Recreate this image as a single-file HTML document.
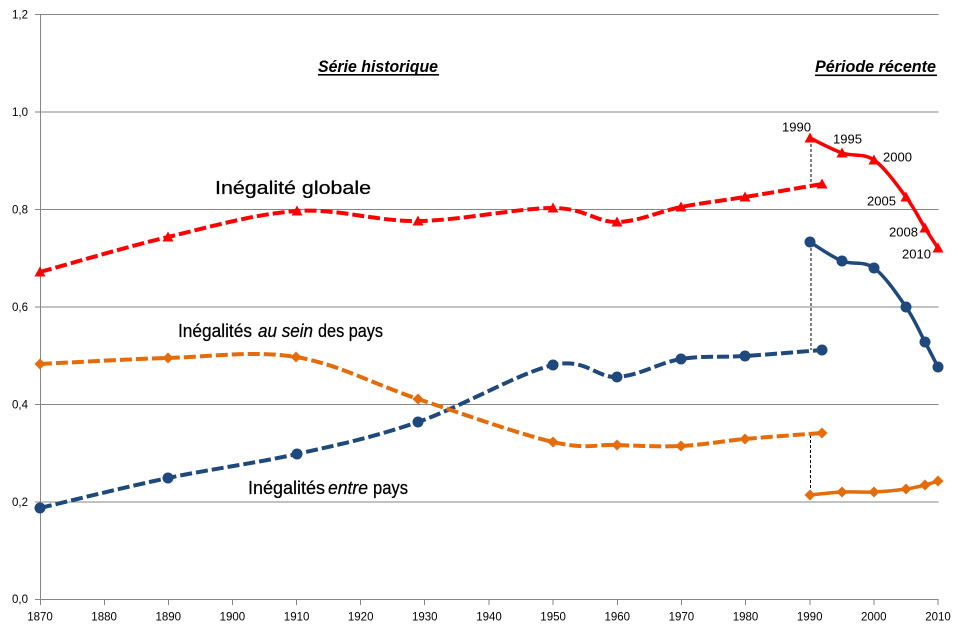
<!DOCTYPE html>
<html><head><meta charset="utf-8"><style>
html,body{margin:0;padding:0;background:#fff;}
svg{display:block;}
.ax{font-family:"Liberation Sans",sans-serif;font-size:11.5px;fill:#000;}
.an{font-family:"Liberation Sans",sans-serif;font-size:18px;fill:#000;stroke:#000;stroke-width:0.25px;}
.yr{font-family:"Liberation Sans",sans-serif;font-size:13px;fill:#000;}
.tt{font-family:"Liberation Sans",sans-serif;font-size:16.5px;font-weight:bold;font-style:italic;fill:#000;}
</style></head><body>
<svg width="958" height="629" viewBox="0 0 958 629" xmlns="http://www.w3.org/2000/svg">
<defs>
<path id="tri" d="M0,-5.5 L5.5,4.5 L-5.5,4.5 Z" fill="#ff0000"/>
<circle id="dot" cx="0" cy="0" r="5.5" fill="#1f497d"/>
<path id="dia" d="M0,-5.5 L5.5,0 L0,5.5 L-5.5,0 Z" fill="#e46c0a"/>
</defs>
<!-- gridlines -->
<g stroke="#868686" stroke-width="1" fill="none">
<line x1="40" y1="14.5" x2="938.5" y2="14.5"/>
<line x1="40" y1="112" x2="938.5" y2="112"/>
<line x1="40" y1="209.5" x2="938.5" y2="209.5"/>
<line x1="40" y1="307" x2="938.5" y2="307"/>
<line x1="40" y1="404.5" x2="938.5" y2="404.5"/>
<line x1="40" y1="502" x2="938.5" y2="502"/>
<line x1="35" y1="599.5" x2="938.5" y2="599.5"/>
<line x1="40.5" y1="14.5" x2="40.5" y2="605"/>
<line x1="35" y1="14.5" x2="40" y2="14.5"/>
<line x1="35" y1="112" x2="40" y2="112"/>
<line x1="35" y1="209.5" x2="40" y2="209.5"/>
<line x1="35" y1="307" x2="40" y2="307"/>
<line x1="35" y1="404.5" x2="40" y2="404.5"/>
<line x1="35" y1="502" x2="40" y2="502"/>
<line x1="104.5" y1="600" x2="104.5" y2="605"/>
<line x1="168.5" y1="600" x2="168.5" y2="605"/>
<line x1="232.5" y1="600" x2="232.5" y2="605"/>
<line x1="296.5" y1="600" x2="296.5" y2="605"/>
<line x1="360.5" y1="600" x2="360.5" y2="605"/>
<line x1="424.5" y1="600" x2="424.5" y2="605"/>
<line x1="489" y1="600" x2="489" y2="605"/>
<line x1="553" y1="600" x2="553" y2="605"/>
<line x1="617.5" y1="600" x2="617.5" y2="605"/>
<line x1="681.5" y1="600" x2="681.5" y2="605"/>
<line x1="745.5" y1="600" x2="745.5" y2="605"/>
<line x1="810" y1="600" x2="810" y2="605"/>
<line x1="874" y1="600" x2="874" y2="605"/>
<line x1="938" y1="600" x2="938" y2="605"/>
</g>
<!-- y labels -->
<g class="ax" text-anchor="end">
<text x="28" y="18.5">1,2</text>
<text x="28" y="116">1,0</text>
<text x="28" y="213.5">0,8</text>
<text x="28" y="311">0,6</text>
<text x="28" y="408.5">0,4</text>
<text x="28" y="506">0,2</text>
<text x="28" y="603">0,0</text>
</g>
<!-- x labels -->
<g class="ax" text-anchor="middle">
<text x="40" y="620.5">1870</text>
<text x="104.1" y="620.5">1880</text>
<text x="168.3" y="620.5">1890</text>
<text x="232.4" y="620.5">1900</text>
<text x="296.6" y="620.5">1910</text>
<text x="360.7" y="620.5">1920</text>
<text x="424.8" y="620.5">1930</text>
<text x="489" y="620.5">1940</text>
<text x="553.1" y="620.5">1950</text>
<text x="617.3" y="620.5">1960</text>
<text x="681.4" y="620.5">1970</text>
<text x="745.5" y="620.5">1980</text>
<text x="809.7" y="620.5">1990</text>
<text x="873.8" y="620.5">2000</text>
<text x="938" y="620.5">2010</text>
</g>
<!-- black dashed connectors -->
<g stroke="#000" stroke-width="1" stroke-dasharray="3,2" fill="none">
<line x1="811" y1="139" x2="811" y2="185"/>
<line x1="811" y1="243" x2="811" y2="350"/>
<line x1="810.5" y1="435" x2="810.5" y2="495"/>
</g>
<!-- historical dashed series -->
<g fill="none" stroke-width="4" stroke-dasharray="12,4">
<path stroke="#ff0000" d="M40,272 C61.3,266.2 125.2,247.2 168,237 C210.8,226.8 255.3,213.7 297,211 C338.7,208.3 375.3,221.5 418,221 C460.7,220.5 519.8,207.8 553,208 C586.2,208.2 595.7,222.2 617,222 C638.3,221.8 659.7,211.2 681,207 C702.3,202.8 721.5,200.8 745,197 C768.5,193.2 809.2,186.2 822,184"/>
<path stroke="#1f497d" d="M40,508 C61.3,503 125.2,487 168,478 C210.8,469 255.3,463.3 297,454 C338.7,444.7 375.3,436.8 418,422 C460.7,407.2 519.8,372.5 553,365 C586.2,357.5 595.7,378 617,377 C638.3,376 659.7,362.5 681,359 C702.3,355.5 721.5,357.5 745,356 C768.5,354.5 809.2,351 822,350"/>
<path stroke="#e46c0a" d="M40,364 C61.3,363 125.3,359.2 168,358 C210.7,356.8 254.3,350.2 296,357 C337.7,363.8 375.2,384.8 418,399 C460.8,413.2 519.8,434.3 553,442 C586.2,449.7 595.7,444.3 617,445 C638.3,445.7 659.7,447 681,446 C702.3,445 721.5,441.2 745,439 C768.5,436.8 809.2,434 822,433"/>
</g>
<!-- recent solid series -->
<g fill="none" stroke-width="3.5" stroke-linejoin="round">
<path stroke="#ff0000" d="M810,138 C815.3,140.5 831.3,149.3 842,153 C852.7,156.7 863.3,152.7 874,160 C884.7,167.3 897.5,185.7 906,197 C914.5,208.3 919.7,219.5 925,228 C930.3,236.5 935.8,244.7 938,248"/>
<path stroke="#1f497d" d="M810,242 C815.3,245.2 831.3,256.7 842,261 C852.7,265.3 863.3,260.3 874,268 C884.7,275.7 897.5,294.7 906,307 C914.5,319.3 919.7,332 925,342 C930.3,352 935.8,362.8 938,367"/>
<path stroke="#e46c0a" d="M810,495 C815.3,494.5 831.3,492.5 842,492 C852.7,491.5 863.3,492.5 874,492 C884.7,491.5 897.5,490.2 906,489 C914.5,487.8 919.7,486.3 925,485 C930.3,483.7 935.8,481.7 938,481"/>
</g>
<!-- markers -->
<g>
<use href="#tri" x="40" y="272"/><use href="#tri" x="168" y="237"/><use href="#tri" x="297" y="211"/><use href="#tri" x="418" y="221"/><use href="#tri" x="553" y="208"/><use href="#tri" x="617" y="222"/><use href="#tri" x="681" y="207"/><use href="#tri" x="745" y="197"/><use href="#tri" x="822" y="184"/>
<use href="#tri" x="810" y="138"/><use href="#tri" x="842" y="153"/><use href="#tri" x="874" y="160"/><use href="#tri" x="906" y="197"/><use href="#tri" x="925" y="228"/><use href="#tri" x="938" y="248"/>
<use href="#dot" x="40" y="508"/><use href="#dot" x="168" y="478"/><use href="#dot" x="297" y="454"/><use href="#dot" x="418" y="422"/><use href="#dot" x="553" y="365"/><use href="#dot" x="617" y="377"/><use href="#dot" x="681" y="359"/><use href="#dot" x="745" y="356"/><use href="#dot" x="822" y="350"/>
<use href="#dot" x="810" y="242"/><use href="#dot" x="842" y="261"/><use href="#dot" x="874" y="268"/><use href="#dot" x="906" y="307"/><use href="#dot" x="925" y="342"/><use href="#dot" x="938" y="367"/>
<use href="#dia" x="40" y="364"/><use href="#dia" x="168" y="358"/><use href="#dia" x="296" y="357"/><use href="#dia" x="418" y="399"/><use href="#dia" x="553" y="442"/><use href="#dia" x="617" y="445"/><use href="#dia" x="681" y="446"/><use href="#dia" x="745" y="439"/><use href="#dia" x="822" y="433"/>
<use href="#dia" x="810" y="495"/><use href="#dia" x="842" y="492"/><use href="#dia" x="874" y="492"/><use href="#dia" x="906" y="489"/><use href="#dia" x="925" y="485"/><use href="#dia" x="938" y="481"/>
</g>
<!-- year labels recent -->
<g class="yr">
<text x="782" y="131.5" textLength="29" lengthAdjust="spacingAndGlyphs">1990</text>
<text x="833" y="143.5" textLength="29" lengthAdjust="spacingAndGlyphs">1995</text>
<text x="883" y="161.5" textLength="29" lengthAdjust="spacingAndGlyphs">2000</text>
<text x="867" y="205.5" textLength="29" lengthAdjust="spacingAndGlyphs">2005</text>
<text x="889" y="236.5" textLength="29" lengthAdjust="spacingAndGlyphs">2008</text>
<text x="902" y="258.5" textLength="29" lengthAdjust="spacingAndGlyphs">2010</text>
</g>
<!-- titles -->
<text class="tt" x="318" y="72" textLength="120" lengthAdjust="spacingAndGlyphs">Série historique</text>
<rect x="318" y="74" width="121" height="1.6" fill="#000"/>
<text class="tt" x="815" y="72" textLength="121" lengthAdjust="spacingAndGlyphs">Période récente</text>
<rect x="815" y="74.5" width="122" height="1.6" fill="#000"/>
<!-- series annotations -->
<text class="an" x="215" y="194" textLength="156" lengthAdjust="spacingAndGlyphs">Inégalité globale</text>
<text class="an" x="178" y="337" textLength="74" lengthAdjust="spacingAndGlyphs">Inégalités</text>
<text class="an" x="258" y="337" font-style="italic" textLength="55" lengthAdjust="spacingAndGlyphs">au sein</text>
<text class="an" x="318" y="337" textLength="65" lengthAdjust="spacingAndGlyphs">des pays</text>
<text class="an" x="248" y="494" textLength="77" lengthAdjust="spacingAndGlyphs">Inégalités</text>
<text class="an" x="328" y="494" font-style="italic" textLength="40" lengthAdjust="spacingAndGlyphs">entre</text>
<text class="an" x="373" y="494" textLength="35" lengthAdjust="spacingAndGlyphs">pays</text>
</svg>
</body></html>
